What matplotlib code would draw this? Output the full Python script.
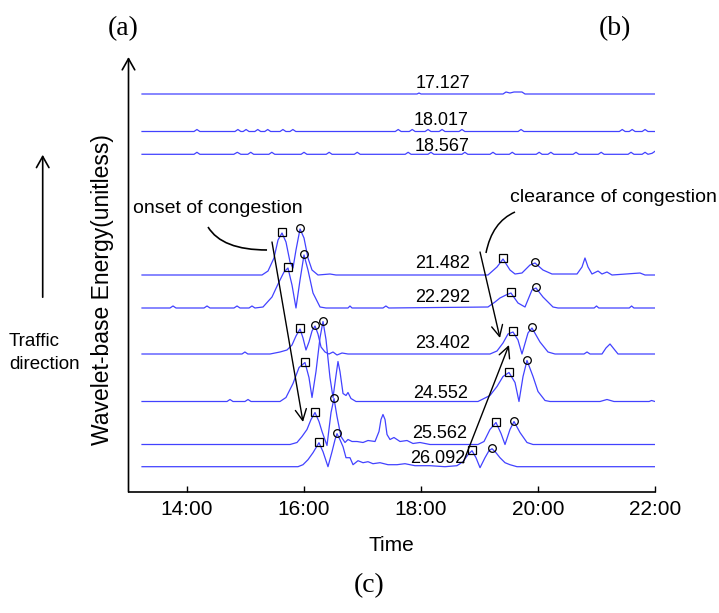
import numpy as np
import matplotlib.pyplot as plt
from matplotlib.path import Path
from matplotlib.patches import PathPatch

plt.rcParams['font.family'] = ['Liberation Sans', 'DejaVu Sans']

# detector positions (labels of each trace)
names = ['17.127', '18.017', '18.567', '21.482', '22.292',
         '23.402', '24.552', '25.562', '26.092']
# vertical offset of each trace baseline
offsets = [398, 360.5, 337.7, 217, 184, 138, 90.5, 47.5, 25.3]

# time in hours, energy in plot units above the trace baseline
t_17127 = [13.231, 17.932, 17.966, 18.000, 19.402, 19.453, 19.521, 19.590,
           19.726, 19.778, 22.0]
e_17127 = [0, 0, 1, 0, 0, 2, 1, 2, 2, 0, 0]

t_18017 = [13.231,
           14.12, 14.17, 14.22, 14.82, 14.87, 14.92, 14.96, 15.01, 15.06,
           15.16, 15.21, 15.26, 15.33, 15.38, 15.43, 15.59, 15.64, 15.69,
           15.76, 15.81, 15.86, 17.56, 17.61, 17.66, 17.80, 17.85, 17.90,
           18.07, 18.12, 18.17, 18.31, 18.36, 18.41, 18.65, 18.70, 18.75,
           19.66, 19.71, 19.76, 21.39, 21.44, 21.49, 21.56, 21.61, 21.66,
           21.78, 21.83, 21.88,
           22.0]
e_18017 = [0,
           0, 2, 0, 0, 2, 0, 0, 2, 0,
           0, 2, 0, 0, 2, 0, 0, 2, 0,
           0, 2, 0, 0, 2, 0, 0, 2, 0,
           0, 2, 0, 0, 2, 0, 0, 2, 0,
           0, 2, 0, 0, 2, 0, 0, 2, 0,
           0, 2, 0,
           0]

t_18567 = [13.231,
           14.12, 14.17, 14.22, 14.80, 14.86, 14.92, 15.04, 15.09, 15.14,
           15.40, 15.45, 15.50, 15.95, 16.00, 16.05, 16.38, 16.43, 16.48,
           16.86, 16.91, 16.96, 17.73, 17.78, 17.83, 18.12, 18.17, 18.22,
           18.70, 18.75, 18.80, 19.18, 19.23, 19.28, 19.51, 19.56, 19.61,
           19.97, 20.02, 20.07, 20.17, 20.22, 20.27, 20.60, 20.65, 20.70,
           21.03, 21.08, 21.13, 21.54, 21.59, 21.64, 21.78, 21.83, 21.88,
           21.95, 22.0]
e_18567 = [0,
           0, 2, 0, 0, 2, 0, 0, 2, 0,
           0, 2, 0, 0, 2, 0, 0, 2, 0,
           0, 2, 0, 0, 2, 0, 0, 2, 0,
           0, 2, 0, 0, 2, 0, 0, 2, 0,
           0, 2, 0, 0, 2, 0, 0, 2, 0,
           0, 2, 0, 0, 2, 0, 0, 2, 0,
           1, 3]

t_21482 = [13.231, 15.282, 15.385, 15.487, 15.556, 15.624, 15.692, 15.761,
           15.812, 15.863, 15.932, 16.000, 16.068, 16.137, 16.239, 16.444,
           16.547, 19.145, 19.299, 19.402, 19.521, 19.607, 19.726, 19.863,
           19.949, 20.085, 20.239, 20.667, 20.752, 20.803, 20.855, 20.923,
           21.026, 21.094, 21.179, 21.265, 21.744, 21.829, 22.0]
e_21482 = [0, 0, 4, 17, 35, 42, 33, 13,
           7, 25, 46, 37, 17, 5, 0, 1,
           0, 0, 8, 16, 5, 1, 2, 10,
           12, 5, 1, 1, 8, 17, 8, 1,
           4, 1, 3, 0, 2, 0, 0]

t_22292 = [13.231, 13.709, 13.761, 13.812, 14.291, 14.342, 14.393, 14.803,
           14.855, 14.906, 15.060, 15.111, 15.162, 15.299, 15.453, 15.556,
           15.658, 15.726, 15.795, 15.863, 15.932, 16.000, 16.068, 16.154,
           16.274, 16.376, 16.752, 16.786, 16.821, 17.350, 17.400, 17.450,
           19.145, 19.265, 19.350, 19.453, 19.538, 19.658, 19.778, 19.897,
           19.966, 20.085, 20.256, 20.342, 20.960, 21.000, 21.040, 21.560,
           21.600, 21.640, 22.0]
e_22292 = [0, 0, 2, 0, 0, 2, 0, 0,
           2, 0, 0, 2, 0, 1, 11, 24,
           36, 40, 23, 0, 28, 53, 38, 15,
           1, 0, 0, 2, 0, 0, 2, 0,
           1, 6, 10, 13, 15, 5, 1, 18,
           20, 11, 1, 0, 0, 2, 0, 0,
           2, 0, 0]

t_23402 = [13.231, 14.940, 14.990, 15.040, 15.419, 15.590, 15.709, 15.795,
           15.863, 15.932, 15.983, 16.034, 16.085, 16.137, 16.188, 16.239,
           16.291, 16.359, 16.427, 16.496, 16.564, 16.650, 16.752, 19.179,
           19.299, 19.402, 19.487, 19.573, 19.658, 19.726, 19.829, 19.897,
           20.034, 20.171, 20.291, 20.786, 20.838, 20.889, 21.094, 21.162,
           21.231, 21.299, 21.368, 22.0]
e_23402 = [0, 0, 2, 0, 0, 2, 4, 9,
           18, 25, 16, 4, 12, 23, 28, 20,
           7, 2, 0, 2, -1, 1, 0, 0,
           3, 11, 20, 22, 14, 0, 21, 26,
           12, 2, 0, 0, 2, 0, 0, 6,
           10, 5, 0, 0]

t_24552 = [13.231, 14.684, 14.735, 14.786, 14.991, 15.043, 15.094, 15.590,
           15.692, 15.812, 15.915, 16.017, 16.085, 16.137, 16.205, 16.274,
           16.325, 16.376, 16.444, 16.496, 16.547, 16.581, 16.615, 16.667,
           16.718, 16.752, 16.803, 16.889, 18.974, 19.179, 19.299, 19.402,
           19.504, 19.607, 19.675, 19.744, 19.812, 19.915, 20.000, 20.120,
           20.205, 21.060, 21.179, 21.299, 21.900, 21.940, 22.0]
e_24552 = [0, 0, 2, 0, 0, 2, 0, 0,
           4, 18, 34, 39, 24, 4, 30, 64,
           80, 62, 24, 4, 26, 40, 30, 8,
           6, 9, 3, 0, 0, 6, 15, 25,
           29, 19, 0, 25, 41, 25, 10, 1,
           0, 0, 2, 0, 0, 1, 0]

t_25562 = [13.231, 15.761, 15.880, 15.966, 16.051, 16.120, 16.188, 16.256,
           16.308, 16.393, 16.462, 16.513, 16.564, 16.632, 16.701, 16.752,
           16.821, 16.906, 17.009, 17.094, 17.214, 17.282, 17.316, 17.350,
           17.385, 17.419, 17.470, 17.538, 17.641, 17.761, 17.863, 17.983,
           18.154, 18.974, 19.077, 19.179, 19.282, 19.368, 19.436, 19.521,
           19.590, 19.692, 19.812, 19.915, 22.0]
e_25562 = [0, 0, 2, 8, 15, 25, 32, 23,
           13, -1, 32, 46, 28, 8, 2, 5,
           3, 3, 2, 4, 3, 13, 25, 30,
           25, 10, 5, 7, 3, 4, 1, 2,
           0, 0, 3, 15, 22, 11, 0, 15,
           23, 12, 2, 0, 0]

t_26092 = [13.231, 15.897, 15.983, 16.068, 16.154, 16.256, 16.325, 16.410,
           16.479, 16.530, 16.564, 16.615, 16.667, 16.718, 16.786, 16.838,
           16.923, 17.009, 17.094, 17.179, 17.299, 17.436, 17.590, 17.726,
           17.897, 18.154, 18.410, 18.615, 18.718, 18.803, 18.872, 18.940,
           19.009, 19.094, 19.162, 19.214, 19.282, 19.350, 19.436, 19.521,
           19.641, 22.0]
e_26092 = [0, 0, 2, 7, 14, 24, 15, 0,
           15, 27, 33, 27, 20, 9, 9, 2,
           6, 4, 5, 3, 4, 2, 2, 3,
           1, 1, 0, 1, 5, 12, 16, 9,
           -1, 9, 16, 18, 14, 9, 4, 2,
           0, 0]

times = [t_17127, t_18017, t_18567, t_21482, t_22292,
         t_23402, t_24552, t_25562, t_26092]
energy = [e_17127, e_18017, e_18567, e_21482, e_22292,
          e_23402, e_24552, e_25562, e_26092]

# onset (square) and clearance (circle) picks, in hours
onset_sq = [[], [], [], [15.624, 19.402], [15.726, 19.538], [15.932, 19.573],
            [16.017, 19.504], [16.188, 19.282], [16.256, 18.872]]
clear_ci = [[], [], [], [15.932, 19.949], [16.000, 19.966], [16.188, 19.897],
            [16.325, 19.812], [16.513, 19.590], [16.564, 19.214]]

tick_pos = [14, 16, 18, 20, 22]
tick_lab = ['14:00', '16:00', '18:00', '20:00', '22:00']

# label placement (time, height above baseline)
label_x = [18.376, 18.342, 18.368, 18.368, 18.368, 18.368, 18.333, 18.316, 18.282]
label_dy = [6.5, 6.5, 3.5, 6.5, 5.5, 5.5, 4, 6.5, 4]

blue = '#4242ff'

fig = plt.figure(figsize=(7.19, 6.13), dpi=100)
ax = fig.add_axes([128.5 / 719, 1 - 492 / 613, 526.5 / 719, 435 / 613])
ax.set_xlim(13, 22)
ax.set_ylim(0, 435)

for i in range(len(names)):
    t = np.array(times[i])
    e = np.array(energy[i]) + offsets[i]
    ax.plot(t, e, color=blue, lw=0.9)
    if onset_sq[i]:
        ax.plot(onset_sq[i], np.interp(onset_sq[i], t, e) + 1, 's', mfc='none',
                mec='k', ms=5.5, mew=0.9)
        ax.plot(clear_ci[i], np.interp(clear_ci[i], t, e) + 1, 'o', mfc='none',
                mec='k', ms=5.5, mew=0.9)
    ax.text(label_x[i], offsets[i] + label_dy[i], names[i], ha='center',
            va='baseline', fontsize=13)

# annotations
ax.text(13.08, 278.7, 'onset of congestion', fontsize=14, va='baseline')
ax.text(19.52, 290, 'clearance of congestion', fontsize=14, va='baseline')

onset_curve = Path([(14.359, 265), (14.598, 242), (15.368, 242)],
                   [Path.MOVETO, Path.CURVE3, Path.CURVE3])
ax.add_patch(PathPatch(onset_curve, fc='none', ec='k', lw=1.2))
clear_curve = Path([(19.607, 280), (19.214, 270), (19.111, 239)],
                   [Path.MOVETO, Path.CURVE3, Path.CURVE3])
ax.add_patch(PathPatch(clear_curve, fc='none', ec='k', lw=1.1))

arr = dict(arrowstyle='->,head_length=0.8,head_width=0.4', color='k', lw=1,
           shrinkA=0, shrinkB=0)
ax.annotate('', xy=(15.983, 70), xytext=(15.453, 250), arrowprops=arr)
ax.annotate('', xy=(19.350, 154), xytext=(19.009, 240), arrowprops=arr)
ax.annotate('', xy=(19.504, 147), xytext=(18.718, 29), arrowprops=arr)

# axes
for s in ['top', 'right', 'left']:
    ax.spines[s].set_visible(False)
ax.spines['bottom'].set_linewidth(1.2)
ax.set_yticks([])
ax.set_xticks(tick_pos)
ax.set_xticklabels(tick_lab)
ax.tick_params(axis='x', direction='in', length=4.5, width=1, labelsize=15, pad=6)
ax.annotate('', xy=(0, 1), xytext=(0, 0), xycoords='axes fraction',
            arrowprops=dict(arrowstyle='->,head_length=0.8,head_width=0.45',
                            color='k', lw=1.2, shrinkA=0, shrinkB=0))
ax.set_xlabel('Time', fontsize=15, labelpad=12)
fig.text(103 / 719, 1 - 290 / 613, 'Wavelet-base Energy(unitless)', rotation=90,
         ha='center', va='center', fontsize=16.5)

# traffic direction arrow
fig.text(9 / 719, 1 - 346 / 613, 'Traffic', fontsize=13.5, va='baseline')
fig.text(9 / 719, 1 - 369 / 613, 'direction', fontsize=13.5, va='baseline')
fig.add_artist(plt.matplotlib.patches.FancyArrowPatch(
    (42.7 / 719, 1 - 300 / 613), (42.7 / 719, 1 - 152 / 613),
    transform=fig.transFigure, arrowstyle='->,head_length=0.8,head_width=0.45',
    mutation_scale=10, color='k', lw=1.2))

for lab, x, y in [('(a)', 123, 29), ('(b)', 615, 29), ('(c)', 369, 586)]:
    fig.text(x / 719, 1 - y / 613, lab, ha='center', va='center', fontsize=20,
             family='Liberation Serif')

fig.savefig('out.png', dpi=100)
